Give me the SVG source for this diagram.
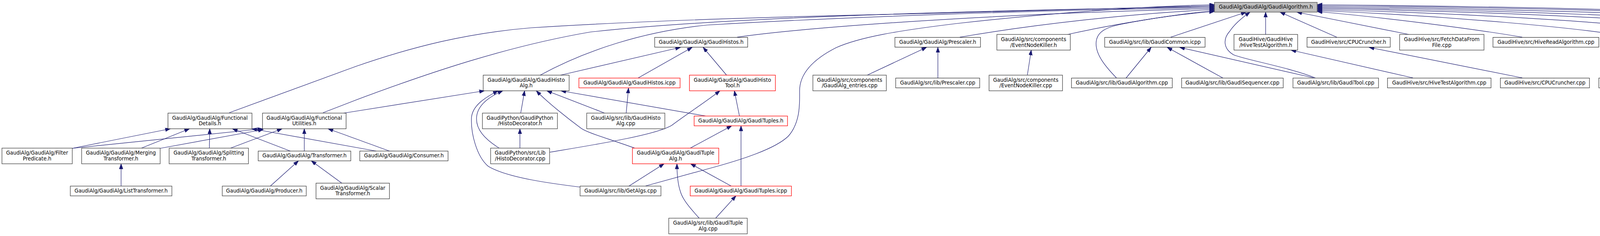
<svg xmlns="http://www.w3.org/2000/svg" width="5421" height="603" viewBox="0 0 5421 603">
<style>
.e{fill:none;stroke:#191970;stroke-width:1.2;marker-end:url(#ah)}
.nb rect{fill:#fff;stroke:#000;stroke-width:1}
.ng rect{fill:#fff;stroke:#4d4d4d;stroke-width:1.4}
.nr rect{fill:#fff;stroke:#f00;stroke-width:1.3}
.root rect{fill:#bfbfbf;stroke:#404040;stroke-width:1.2}
text{font-family:"DejaVu Sans",sans-serif;font-size:13px;fill:#000;text-anchor:middle}
text.l{text-anchor:start}
</style>
<defs>
<marker id="ah" markerUnits="userSpaceOnUse" markerWidth="14" markerHeight="10" refX="13" refY="4.6" orient="auto">
<path d="M0,0 L13,4.6 L0,9.2 Z" fill="#191970" stroke="#191970" stroke-width="1"/>
</marker>
</defs>
<rect x="0" y="0" width="5421" height="603" fill="#fff"/>
<g id="edges">
<path class="e" d="M587,288 L910,170 C1060,118 1200,84 1360,71 C1650,52 2100,40 2400,34 C2700,27 2950,17 3109,14.5"/>
<path class="e" d="M827,288 L910,256 C1100,185 1300,118 1510,82 C1800,50 2300,30 3109,17"/>
<path class="e" d="M1383,192 C1500,128 1650,80 1810,64 C2150,44 2650,26 3109,19.5"/>
<path class="e" d="M1887,95 C2050,72 2500,36 3109,22"/>
<path class="e" d="M2457,95 C2650,62 2900,34 3109,24.5"/>
<path class="e" d="M2733,88 C2850,62 3000,38 3109,27"/>
<path class="e" d="M1653,475 L1810,432 C1900,408 1985,380 2018,348 C2050,312 2047,262 2047,232 C2047,185 2085,150 2140,122 C2200,95 2300,78 2450,60 C2700,32 2950,15 3109,12"/>
<path class="e" d="M2858,199 C2830,170 2805,140 2806,110 C2807,82 2830,70 2870,62 C2950,46 3040,34 3109,29.5"/>
<path class="e" d="M2997,95 L3190,31"/>
<path class="e" d="M3367,199 C3300,172 3185,152 3158,140 C3132,125 3130,100 3148,80 C3160,62 3180,45 3200,31"/>
<path class="e" d="M3240,88 L3240,31"/>
<path class="e" d="M3422,95 L3277,31"/>
<path class="e" d="M3607,88 L3320,31"/>
<path class="e" d="M3897,95 C3780,75 3550,45 3372,29.5"/>
<path class="e" d="M4173,95 C4060,72 3700,40 3372,27"/>
<path class="e" d="M4363,88 C4220,62 3800,35 3372,24.5"/>
<path class="e" d="M4567,88 C4420,58 3900,30 3372,22"/>
<path class="e" d="M4777,88 C4620,57 4000,28 3372,19.5"/>
<path class="e" d="M4990,82 C4820,56 4100,25 3372,17"/>
<path class="e" d="M5247,88 C5100,62 4300,22 3372,14.5"/>
<path class="e" d="M5272,192 C5240,165 5218,148 5205,132 C5190,112 5180,88 5140,76 C4950,45 4100,18 3372,12"/>
<path class="e" d="M1435,192 L1742,121"/>
<path class="e" d="M1634,199 L1772,121"/>
<path class="e" d="M1860,192 L1800,121"/>
<path class="e" d="M2220,192 L2372,121"/>
<path class="e" d="M2401,199 L2401,121"/>
<path class="e" d="M2630,192 L2640,128"/>
<path class="e" d="M2883,199 L2947,121"/>
<path class="e" d="M3130,199 L2988,121"/>
<path class="e" d="M3363,199 L3020,121"/>
<path class="e" d="M3617,199 L3305,128"/>
<path class="e" d="M3897,199 L3505,121"/>
<path class="e" d="M4203,199 L4213,121"/>
<path class="e" d="M4427,192 L4428,128"/>
<path class="e" d="M4597,192 L4470,128"/>
<path class="e" d="M4637,192 L4634,128"/>
<path class="e" d="M4869,192 L4860,128"/>
<path class="e" d="M5086,185 L5076,135"/>
<path class="e" d="M5300,192 L5313,128"/>
<path class="e" d="M880,289 L1240,232"/>
<path class="e" d="M1333,289 L1343,232"/>
<path class="e" d="M1548,289 L1400,232"/>
<path class="e" d="M1603,289 L1609,225"/>
<path class="e" d="M1893,296.5 L1880,232"/>
<path class="e" d="M1807,296.5 L1436,232"/>
<path class="e" d="M185,379 L436,329"/>
<path class="e" d="M185,379 L672,329"/>
<path class="e" d="M362,378.5 L485,329"/>
<path class="e" d="M410,379 L674,331"/>
<path class="e" d="M536,378.5 L537,329"/>
<path class="e" d="M590,378.5 L722,329"/>
<path class="e" d="M743,386 L595,329"/>
<path class="e" d="M779,386 L779,329"/>
<path class="e" d="M963,386 L645,329"/>
<path class="e" d="M997,386 L840,329"/>
<path class="e" d="M1331,378.5 L1331,329"/>
<path class="e" d="M1278,378.5 C1240,355 1218,330 1220,300 C1222,270 1250,248 1287,232"/>
<path class="e" d="M1407,389 C1520,370 1680,345 1720,320 C1760,290 1800,265 1843,232"/>
<path class="e" d="M1625,378.5 C1560,355 1505,340 1488,328 C1450,300 1400,260 1373,232"/>
<path class="e" d="M1767,378.5 L1873,321.5"/>
<path class="e" d="M310,475.5 L310,418.5"/>
<path class="e" d="M692,475.5 L764,411"/>
<path class="e" d="M875,468 L797,411"/>
<path class="e" d="M1610,475.5 L1700,418.5"/>
<path class="e" d="M1485,478 C1420,470 1300,455 1250,425 C1220,400 1205,340 1207,300 C1210,270 1240,250 1275,232"/>
<path class="e" d="M1897,475.5 L1897,321.5"/>
<path class="e" d="M1872,475.5 L1768,418.5"/>
<path class="e" d="M1790,557.5 C1765,530 1748,510 1742,490 C1735,470 1733,440 1733,418.5"/>
<path class="e" d="M1832,557.5 L1884,500.5"/>
</g>
<g id="root" class="root"><rect x="3109" y="6" width="263" height="25"/><text transform="scale(1,1.12)" x="3240.5" y="20.09">GaudiAlg/GaudiAlg/GaudiAlgorithm.h</text></g>
<g id="n_histos_h" class="nb"><rect x="1676" y="95.5" width="238" height="25"/><text transform="scale(1,1.12)" x="1795" y="100">GaudiAlg/GaudiAlg/GaudiHistos.h</text></g>
<g id="n_prescaler_h" class="nb"><rect x="2291" y="95.5" width="219" height="25"/><text transform="scale(1,1.12)" x="2400.5" y="100">GaudiAlg/GaudiAlg/Prescaler.h</text></g>
<g id="n_enk_h" class="ng"><rect x="2552" y="88" width="188" height="40"/><text transform="scale(1,1.12)" x="2646" y="93.57">GaudiAlg/src/components</text><text transform="scale(1,1.12)" x="2646" y="106.7">/EventNodeKiller.h</text></g>
<g id="n_common_icpp" class="nb"><rect x="2828" y="95.5" width="257" height="25"/><text transform="scale(1,1.12)" x="2956.5" y="100">GaudiAlg/src/lib/GaudiCommon.icpp</text></g>
<g id="n_hivetest_h" class="nb"><rect x="3159" y="88" width="163" height="40"/><text transform="scale(1,1.12)" x="3240.5" y="93.57">GaudiHive/GaudiHive</text><text transform="scale(1,1.12)" x="3240.5" y="106.7">/HiveTestAlgorithm.h</text></g>
<g id="n_cpu_h" class="nb"><rect x="3346" y="95.5" width="213" height="25"/><text transform="scale(1,1.12)" x="3452.5" y="100">GaudiHive/src/CPUCruncher.h</text></g>
<g id="n_fetch" class="ng"><rect x="3583" y="88" width="216" height="40"/><text transform="scale(1,1.12)" x="3691" y="93.57">GaudiHive/src/FetchDataFrom</text><text transform="scale(1,1.12)" x="3691" y="106.7">File.cpp</text></g>
<g id="n_hiveread" class="nb"><rect x="3822" y="95.5" width="271" height="25"/><text transform="scale(1,1.12)" x="3957.5" y="100">GaudiHive/src/HiveReadAlgorithm.cpp</text></g>
<g id="n_view_h" class="nb"><rect x="4117" y="95.5" width="199" height="25"/><text transform="scale(1,1.12)" x="4216.5" y="100">GaudiHive/src/ViewTester.h</text></g>
<g id="n_rec_h" class="ng"><rect x="4341" y="88" width="178" height="40"/><text transform="scale(1,1.12)" x="4430" y="93.57">GaudiMP/src/component</text><text transform="scale(1,1.12)" x="4430" y="106.7">/RecordOutputStream.h</text></g>
<g id="n_rep_h" class="ng"><rect x="4543" y="88" width="179" height="40"/><text transform="scale(1,1.12)" x="4632.5" y="93.57">GaudiMP/src/component</text><text transform="scale(1,1.12)" x="4632.5" y="106.7">/ReplayOutputStream.h</text></g>
<g id="n_intel_h" class="ng"><rect x="4746" y="88" width="219" height="40"/><text transform="scale(1,1.12)" class="l" x="4757" y="93.57">GaudiProfiling/src</text><text transform="scale(1,1.12)" x="4855.5" y="106.7">/component/intel/IntelProfile.h</text></g>
<g id="n_jem_h" class="ng"><rect x="4989" y="81" width="159" height="54"/><text transform="scale(1,1.12)" class="l" x="5000" y="87.5">GaudiProfiling/src</text><text transform="scale(1,1.12)" x="5068.5" y="100.45">/component/jemalloc</text><text transform="scale(1,1.12)" x="5068.5" y="113.39">/JemallocProfile.h</text></g>
<g id="n_algdec_h" class="ng"><rect x="5223" y="88" width="192" height="40"/><text transform="scale(1,1.12)" x="5319" y="93.57">GaudiPython/GaudiPython</text><text transform="scale(1,1.12)" x="5319" y="106.7">/AlgDecorators.h</text></g>
<g id="n_histoalg_h" class="nb"><rect x="1237" y="192" width="220" height="40"/><text transform="scale(1,1.12)" x="1347" y="186.43">GaudiAlg/GaudiAlg/GaudiHisto</text><text transform="scale(1,1.12)" x="1347" y="199.55">Alg.h</text></g>
<g id="n_histos_icpp" class="nr"><rect x="1482" y="199.5" width="259" height="25"/><text transform="scale(1,1.12)" x="1611.5" y="192.86">GaudiAlg/GaudiAlg/GaudiHistos.icpp</text></g>
<g id="n_histotool_h" class="nr"><rect x="1765" y="192" width="220" height="40"/><text transform="scale(1,1.12)" x="1875" y="186.43">GaudiAlg/GaudiAlg/GaudiHisto</text><text transform="scale(1,1.12)" x="1875" y="199.55">Tool.h</text></g>
<g id="n_entries" class="ng"><rect x="2081" y="192" width="188" height="40"/><text transform="scale(1,1.12)" x="2175" y="186.43">GaudiAlg/src/components</text><text transform="scale(1,1.12)" x="2175" y="199.55">/GaudiAlg_entries.cpp</text></g>
<g id="n_prescaler_cpp" class="nb"><rect x="2293" y="199.5" width="215" height="25"/><text transform="scale(1,1.12)" x="2400.5" y="192.86">GaudiAlg/src/lib/Prescaler.cpp</text></g>
<g id="n_enk_cpp" class="ng"><rect x="2532" y="192" width="188" height="40"/><text transform="scale(1,1.12)" x="2626" y="186.43">GaudiAlg/src/components</text><text transform="scale(1,1.12)" x="2626" y="199.55">/EventNodeKiller.cpp</text></g>
<g id="n_galg_cpp" class="nb"><rect x="2743" y="199.5" width="258" height="25"/><text transform="scale(1,1.12)" x="2872" y="192.86">GaudiAlg/src/lib/GaudiAlgorithm.cpp</text></g>
<g id="n_seq_cpp" class="nb"><rect x="3025" y="199.5" width="260" height="25"/><text transform="scale(1,1.12)" x="3155" y="192.86">GaudiAlg/src/lib/GaudiSequencer.cpp</text></g>
<g id="n_tool_cpp" class="ng"><rect x="3310" y="199.5" width="219" height="25"/><text transform="scale(1,1.12)" x="3419.5" y="192.86">GaudiAlg/src/lib/GaudiTool.cpp</text></g>
<g id="n_hivetest_cpp" class="nb"><rect x="3552" y="199.5" width="265" height="25"/><text transform="scale(1,1.12)" x="3684.5" y="192.86">GaudiHive/src/HiveTestAlgorithm.cpp</text></g>
<g id="n_cpu_cpp" class="nb"><rect x="3841" y="199.5" width="228" height="25"/><text transform="scale(1,1.12)" x="3955" y="192.86">GaudiHive/src/CPUCruncher.cpp</text></g>
<g id="n_view_cpp" class="ng"><rect x="4093" y="199.5" width="215" height="25"/><text transform="scale(1,1.12)" x="4200.5" y="192.86">GaudiHive/src/ViewTester.cpp</text></g>
<g id="n_rec_cpp" class="ng"><rect x="4332" y="192" width="188" height="40"/><text transform="scale(1,1.12)" x="4426" y="186.43">GaudiMP/src/component</text><text transform="scale(1,1.12)" x="4426" y="199.55">/RecordOutputStream.cpp</text></g>
<g id="n_rep_cpp" class="ng"><rect x="4544" y="192" width="188" height="40"/><text transform="scale(1,1.12)" x="4638" y="186.43">GaudiMP/src/component</text><text transform="scale(1,1.12)" x="4638" y="199.55">/ReplayOutputStream.cpp</text></g>
<g id="n_intel_cpp" class="ng"><rect x="4756" y="192" width="233" height="40"/><text transform="scale(1,1.12)" class="l" x="4766" y="186.43">GaudiProfiling/src</text><text transform="scale(1,1.12)" x="4872.5" y="199.55">/component/intel/IntelProfile.cpp</text></g>
<g id="n_jem_cpp" class="ng"><rect x="5013" y="185" width="159" height="54"/><text transform="scale(1,1.12)" class="l" x="5024" y="180.36">GaudiProfiling/src</text><text transform="scale(1,1.12)" x="5092.5" y="193.3">/component/jemalloc</text><text transform="scale(1,1.12)" x="5092.5" y="206.25">/JemallocProfile.cpp</text></g>
<g id="n_algdec_cpp" class="ng"><rect x="5220" y="192" width="151" height="40"/><text transform="scale(1,1.12)" x="5295.5" y="186.43">GaudiPython/src/Lib</text><text transform="scale(1,1.12)" x="5295.5" y="199.55">/AlgDecorators.cpp</text></g>
<g id="n_fdet" class="nb"><rect x="430" y="289" width="215" height="40"/><text transform="scale(1,1.12)" x="537.5" y="273.04">GaudiAlg/GaudiAlg/Functional</text><text transform="scale(1,1.12)" x="537.5" y="286.16">Details.h</text></g>
<g id="n_futil" class="nb"><rect x="672" y="289" width="214" height="40"/><text transform="scale(1,1.12)" x="779" y="273.04">GaudiAlg/GaudiAlg/Functional</text><text transform="scale(1,1.12)" x="779" y="286.16">Utilities.h</text></g>
<g id="n_histodec_h" class="ng"><rect x="1235" y="289" width="192" height="40"/><text transform="scale(1,1.12)" x="1331" y="273.04">GaudiPython/GaudiPython</text><text transform="scale(1,1.12)" x="1331" y="286.16">/HistoDecorator.h</text></g>
<g id="n_histoalg_cpp" class="ng"><rect x="1502" y="289" width="200" height="40"/><text transform="scale(1,1.12)" x="1602" y="273.04">GaudiAlg/src/lib/GaudiHisto</text><text transform="scale(1,1.12)" x="1602" y="286.16">Alg.cpp</text></g>
<g id="n_tuples_h" class="nr"><rect x="1777" y="296.5" width="239" height="25"/><text transform="scale(1,1.12)" x="1896.5" y="279.46">GaudiAlg/GaudiAlg/GaudiTuples.h</text></g>
<g id="n_filter" class="ng"><rect x="5" y="378.5" width="180" height="40"/><text transform="scale(1,1.12)" x="95" y="352.95">GaudiAlg/GaudiAlg/Filter</text><text transform="scale(1,1.12)" x="95" y="366.07">Predicate.h</text></g>
<g id="n_merging" class="ng"><rect x="209" y="378.5" width="201" height="40"/><text transform="scale(1,1.12)" x="309.5" y="352.95">GaudiAlg/GaudiAlg/Merging</text><text transform="scale(1,1.12)" x="309.5" y="366.07">Transformer.h</text></g>
<g id="n_splitting" class="ng"><rect x="433" y="378.5" width="203" height="40"/><text transform="scale(1,1.12)" x="534.5" y="352.95">GaudiAlg/GaudiAlg/Splitting</text><text transform="scale(1,1.12)" x="534.5" y="366.07">Transformer.h</text></g>
<g id="n_transformer" class="nb"><rect x="661" y="386" width="237" height="25"/><text transform="scale(1,1.12)" x="779.5" y="359.38">GaudiAlg/GaudiAlg/Transformer.h</text></g>
<g id="n_consumer" class="nb"><rect x="921" y="386" width="226" height="25"/><text transform="scale(1,1.12)" x="1034" y="359.38">GaudiAlg/GaudiAlg/Consumer.h</text></g>
<g id="n_histodec_cpp" class="ng"><rect x="1256" y="378.5" width="151" height="40"/><text transform="scale(1,1.12)" x="1331.5" y="352.95">GaudiPython/src/Lib</text><text transform="scale(1,1.12)" x="1331.5" y="366.07">/HistoDecorator.cpp</text></g>
<g id="n_tuplealg_h" class="nr"><rect x="1619" y="378.5" width="221" height="40"/><text transform="scale(1,1.12)" x="1729.5" y="352.95">GaudiAlg/GaudiAlg/GaudiTuple</text><text transform="scale(1,1.12)" x="1729.5" y="366.07">Alg.h</text></g>
<g id="n_list" class="ng"><rect x="180" y="475.5" width="260" height="25"/><text transform="scale(1,1.12)" x="310" y="439.29">GaudiAlg/GaudiAlg/ListTransformer.h</text></g>
<g id="n_producer" class="ng"><rect x="569" y="475.5" width="215" height="25"/><text transform="scale(1,1.12)" x="676.5" y="439.29">GaudiAlg/GaudiAlg/Producer.h</text></g>
<g id="n_scalar" class="nb"><rect x="809" y="468" width="188" height="40"/><text transform="scale(1,1.12)" x="903" y="432.86">GaudiAlg/GaudiAlg/Scalar</text><text transform="scale(1,1.12)" x="903" y="445.98">Transformer.h</text></g>
<g id="n_getalgs" class="ng"><rect x="1485" y="475.5" width="207" height="25"/><text transform="scale(1,1.12)" x="1588.5" y="439.29">GaudiAlg/src/lib/GetAlgs.cpp</text></g>
<g id="n_tuples_icpp" class="nr"><rect x="1767" y="475.5" width="259" height="25"/><text transform="scale(1,1.12)" x="1896.5" y="439.29">GaudiAlg/GaudiAlg/GaudiTuples.icpp</text></g>
<g id="n_tuplealg_cpp" class="ng"><rect x="1712" y="557.5" width="201" height="40"/><text transform="scale(1,1.12)" x="1812.5" y="512.77">GaudiAlg/src/lib/GaudiTuple</text><text transform="scale(1,1.12)" x="1812.5" y="525.89">Alg.cpp</text></g>
</svg>
